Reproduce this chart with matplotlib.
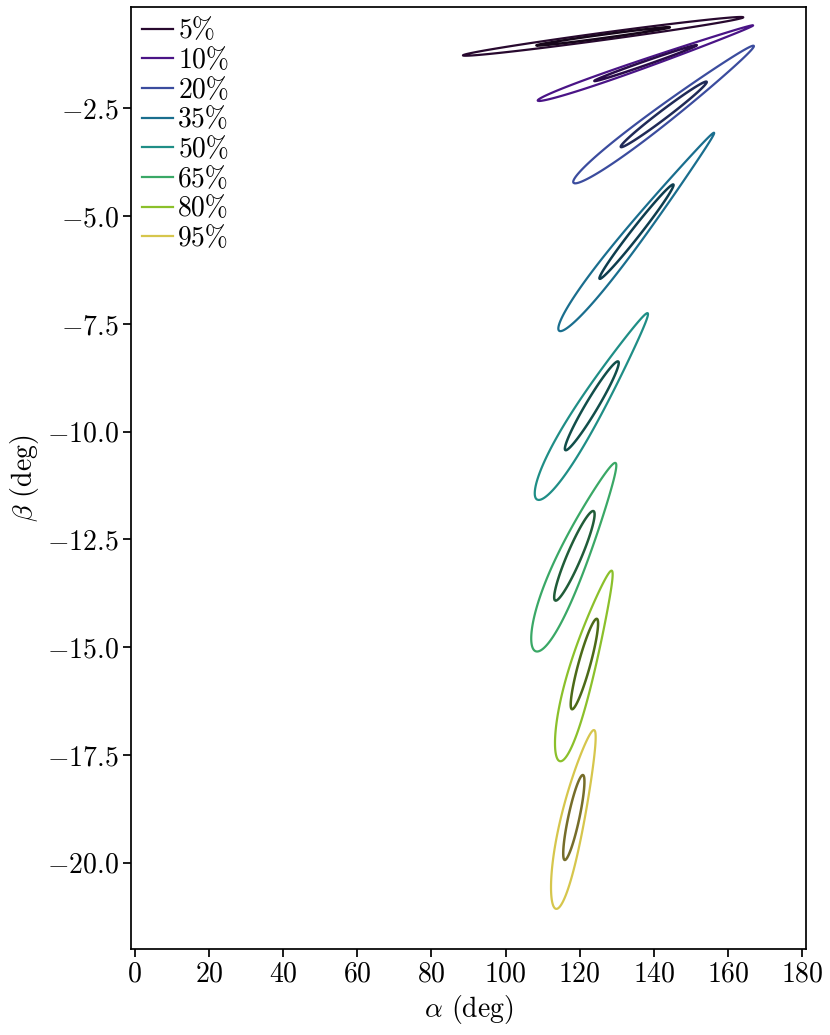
import numpy as np
import matplotlib
matplotlib.use("Agg")
import matplotlib.pyplot as plt
from matplotlib.colors import to_rgb

plt.rcParams.update({
    "font.family": "serif",
    "font.serif": ["cmr10"],
    "mathtext.fontset": "cm",
    "axes.formatter.use_mathtext": True,
    "axes.unicode_minus": True,
    "font.size": 20,
})

# ---- data ----
labels = ["5%", "10%", "20%", "35%", "50%", "65%", "80%", "95%"]
mean_alpha = [126.3, 137.75, 142.65, 135.3, 123.25, 118.55, 121.25, 118.4]
mean_beta = [-0.83, -1.45, -2.64, -5.36, -9.40, -12.88, -15.39, -18.95]
std_alpha = [18.0, 13.83, 11.6, 10.0, 7.26, 5.45, 3.69, 2.86]
std_beta = [0.214, 0.418, 0.760, 1.095, 1.03, 1.039, 1.049, 0.985]
corr = [0.982, 0.993, 0.987, 0.988, 0.965, 0.925, 0.895, 0.845]
skew = [0.0, 0.35, 0.3, 0.5, 0.45, 0.4, 0.4, 0.3]   # tail taper of outer contour
colors = ["#28092f", "#4a1486", "#3b4c9e", "#1a6e8e", "#1f8e86", "#3aa866",
          "#8bc02b", "#d6c64c"]
radii = [1.0, 2.1]          # Mahalanobis radii of the inner / outer contours
dark = 0.55                 # darkening of inner contour colour

fig = plt.figure(figsize=(8.3, 10.35), dpi=100)
ax = fig.add_axes([0.158, 0.0831, 0.813, 0.9101])

for i in range(len(labels)):
    mx, my = mean_alpha[i], mean_beta[i]
    sx, sy, r = std_alpha[i], std_beta[i], corr[i]
    xs = np.linspace(mx - 3 * sx, mx + 3 * sx, 800)
    ys = np.linspace(my - 3 * sy, my + 3 * sy, 800)
    X, Y = np.meshgrid(xs, ys)
    u = (X - mx) / sx
    v = (Y - my) / sy
    s = (u + v) / np.sqrt(2) / np.sqrt(1 + r)      # along major axis
    q = (u - v) / np.sqrt(2) / np.sqrt(1 - r)      # across
    Z_in = s ** 2 + q ** 2
    f = np.clip(1 - skew[i] * s / radii[1], 0.05, None)
    Z_out = s ** 2 + (q / f) ** 2
    c_out = colors[i]
    c_in = tuple(np.array(to_rgb(c_out)) * dark)
    ax.contour(X, Y, Z_out, levels=[radii[1] ** 2], colors=[c_out], linewidths=1.6)
    ax.contour(X, Y, Z_in, levels=[radii[0] ** 2], colors=[c_in], linewidths=1.8)
    ax.plot([], [], color=c_out, lw=1.6, label=labels[i])

ax.set_xlim(-1, 181)
ax.set_ylim(-22.0, -0.15)
ax.set_xticks(np.arange(0, 181, 20))
ax.set_yticks([-20.0, -17.5, -15.0, -12.5, -10.0, -7.5, -5.0, -2.5])
ax.set_xlabel(r"$\alpha$ (deg)", fontsize=20)
ax.set_ylabel(r"$\beta$ (deg)", fontsize=20)
ax.tick_params(direction="out", length=5.5, width=1.25, labelsize=20)
for sp in ax.spines.values():
    sp.set_linewidth(1.25)

ax.legend(loc="upper left", frameon=False, fontsize=20, handlelength=1.1,
          handletextpad=0.2, labelspacing=0.12, borderaxespad=0.2,
          borderpad=0.2)

fig.savefig("out.png", dpi=100)
